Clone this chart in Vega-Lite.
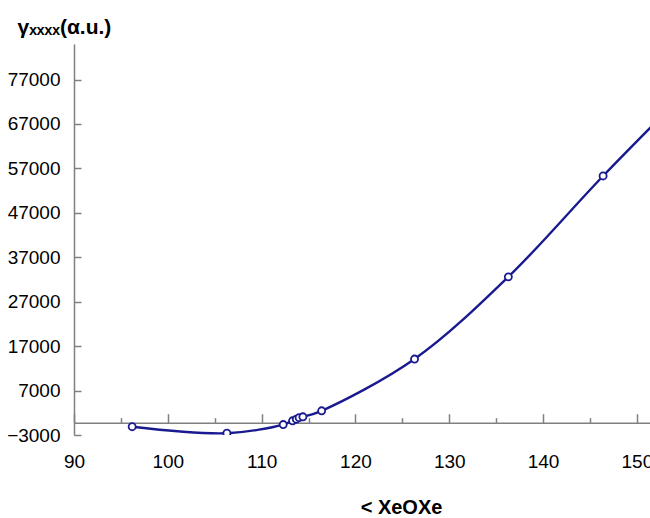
{
  "$schema": "https://vega.github.io/schema/vega-lite/v6.json",
  "width": 576,
  "height": 391,
  "autosize": {"type": "none"},
  "padding": {"left": 74, "top": 44, "right": 0, "bottom": 83},
  "background": "white",
  "config": {"view": {"stroke": null}, "font": "Liberation Sans"},
  "data": {
    "values": [
      {"angle": 96.2, "gamma": -1130},
      {"angle": 106.3, "gamma": -2600},
      {"angle": 112.3, "gamma": -650},
      {"angle": 113.3, "gamma": 200},
      {"angle": 113.7, "gamma": 550},
      {"angle": 114.0, "gamma": 900},
      {"angle": 114.4, "gamma": 1100},
      {"angle": 116.4, "gamma": 2450},
      {"angle": 126.3, "gamma": 14100},
      {"angle": 136.3, "gamma": 32600},
      {"angle": 146.4, "gamma": 55300},
      {"angle": 156.3, "gamma": 76500}
    ]
  },
  "encoding": {
    "x": {
      "field": "angle",
      "type": "quantitative",
      "scale": {"domain": [90, 151.4], "nice": false, "zero": false},
      "axis": {
        "values": [90, 95, 100, 105, 110, 115, 120, 125, 130, 135, 140, 145, 150],
        "labelExpr": "datum.value % 10 === 0 ? datum.label : ''",
        "labelFont": "Liberation Sans",
        "labelFontSize": 19,
        "labelColor": "black",
        "labelFlush": false,
        "labelOverlap": false,
        "labelPadding": 39,
        "offset": -12.3,
        "grid": false,
        "domainColor": "#808080",
        "domainWidth": 1.5,
        "tickColor": "#808080",
        "tickWidth": 1.5,
        "tickSize": {"condition": {"test": "datum.value % 10 === 0", "value": -9}, "value": -5},
        "title": "< XeOXe",
        "titleFont": "Liberation Sans",
        "titleFontSize": 20,
        "titleFontWeight": "bold",
        "titleColor": "black",
        "titleX": 327,
        "titleY": 91,
        "titleAlign": "center",
        "titleBaseline": "alphabetic"
      }
    },
    "y": {
      "field": "gamma",
      "type": "quantitative",
      "scale": {"domain": [-3000, 85000], "nice": false, "zero": false},
      "axis": {
        "values": [-3000, 7000, 17000, 27000, 37000, 47000, 57000, 67000, 77000],
        "format": "d",
        "labelFont": "Liberation Sans",
        "labelFontSize": 19,
        "labelColor": "black",
        "labelPadding": 21,
        "tickSize": -7,
        "tickColor": "#808080",
        "tickWidth": 1.5,
        "domainColor": "#808080",
        "domainWidth": 1.5,
        "grid": false,
        "title": "γₓₓₓₓ(α.u.)",
        "titleFont": "Liberation Sans",
        "titleFontSize": 21,
        "titleFontWeight": "bold",
        "titleColor": "black",
        "titleAngle": 0,
        "titleX": -57,
        "titleY": -11,
        "titleAlign": "left",
        "titleBaseline": "alphabetic"
      }
    }
  },
  "layer": [
    {
      "mark": {"type": "line", "interpolate": "catmull-rom", "color": "#1a1a90", "strokeWidth": 2.4, "clip": true}
    },
    {
      "mark": {"type": "point", "shape": "circle", "filled": true, "fill": "white", "fillOpacity": 1, "stroke": "#1a1a90", "strokeWidth": 1.8, "size": 50, "clip": true}
    }
  ]
}
